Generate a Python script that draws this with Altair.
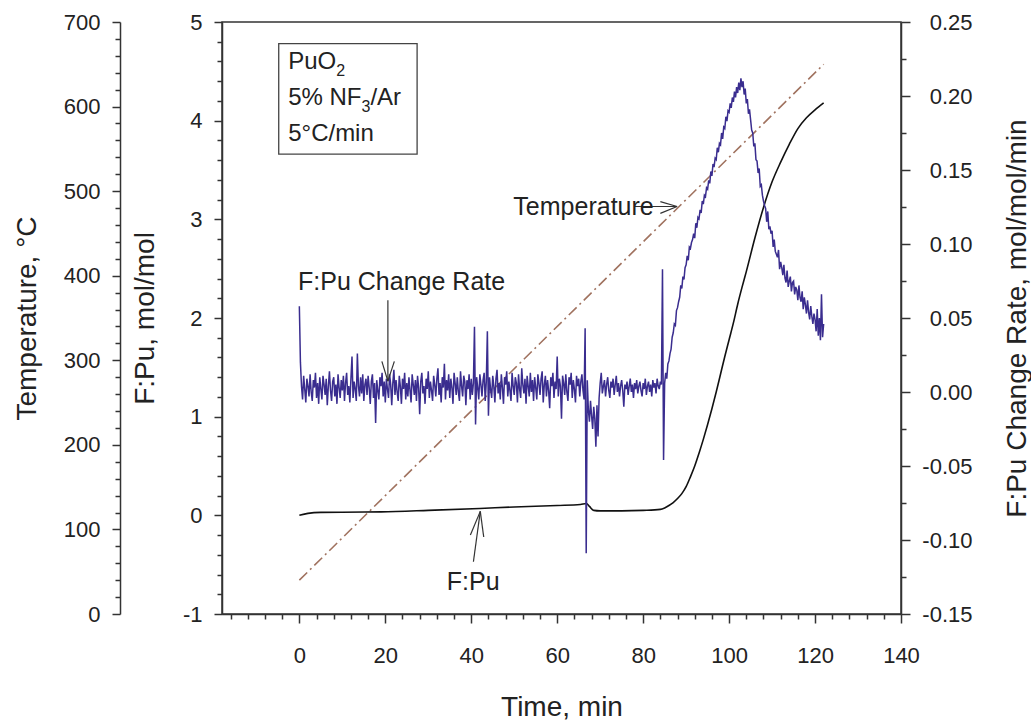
import altair as alt
import pandas as pd

# ---- data -------------------------------------------------------------
# Furnace temperature (deg C) vs time (min)
temp_time = [0, 122]
temp_c = [40, 650]

# F:Pu ratio (mol/mol) vs time (min)
fpu_time = [0, 2, 5, 10, 19, 30, 42, 50, 60, 65.4,
            66.8, 67.5, 68.5, 70, 75, 80, 84, 85, 86, 87,
            88, 89, 90, 91, 92, 93, 94, 95, 96, 97,
            98, 99, 100, 101, 102, 103, 104, 106, 108, 110,
            112, 114, 116, 118, 120, 122]
fpu_ratio = [0.00, 0.02, 0.03, 0.032, 0.035, 0.05, 0.07, 0.085, 0.10, 0.11,
             0.12, 0.09, 0.05, 0.045, 0.045, 0.05, 0.06, 0.075, 0.10, 0.13,
             0.17, 0.22, 0.29, 0.39, 0.50, 0.63, 0.77, 0.92, 1.08, 1.25,
             1.43, 1.61, 1.78, 1.95, 2.14, 2.31, 2.47, 2.81, 3.12, 3.38,
             3.58, 3.76, 3.92, 4.03, 4.11, 4.18]

# F:Pu change rate (mol/mol/min), logged every 0.25 min from t = 0
rate_step_min = 0.25
rate_values = [
    # 0 - 4.75 min
    0.058, 0.020, 0.004, -0.005, 0.011, 0.002, -0.007, 0.009, 0.004, -0.003,
    0.012, 0.000, -0.006, 0.008, 0.003, 0.013, -0.004, 0.006, -0.008, 0.010,
    # 5 - 9.75
    0.002, -0.005, 0.011, 0.005, -0.002, 0.009, -0.009, 0.004, 0.014, 0.001,
    -0.006, 0.007, 0.010, -0.003, 0.005, -0.008, 0.012, 0.003, -0.004, 0.008,
    # 10 - 14.75
    0.001, 0.011, -0.006, 0.006, 0.013, -0.002, 0.004, -0.007, 0.009, 0.024,
    -0.004, 0.007, 0.002, -0.006, 0.026, 0.004, -0.003, 0.010, -0.001, 0.012,
    # 15 - 19.75
    -0.006, 0.005, 0.009, -0.002, 0.011, 0.003, -0.008, 0.007, 0.012, -0.004,
    0.006, -0.021, 0.008, 0.001, -0.005, 0.010, 0.004, 0.013, -0.003, 0.007,
    # 20 - 24.75
    -0.007, 0.009, 0.002, -0.004, 0.012, 0.005, -0.009, 0.006, 0.015, -0.002,
    0.008, 0.000, -0.006, 0.011, 0.004, -0.008, 0.009, 0.002, 0.013, -0.005,
    # 25 - 29.75
    0.006, -0.003, 0.010, 0.001, -0.007, 0.012, 0.005, -0.002, 0.008, -0.006,
    0.011, 0.003, -0.015, 0.007, 0.013, -0.001, 0.004, -0.008, 0.009, 0.002,
    # 30 - 34.75
    0.014, -0.004, 0.007, 0.001, -0.006, 0.011, 0.005, -0.003, 0.009, 0.016,
    -0.002, 0.006, -0.007, 0.010, 0.003, 0.019, -0.005, 0.008, 0.001, 0.012,
    # 35 - 39.75
    -0.004, 0.009, 0.003, -0.008, 0.013, 0.006, -0.002, 0.010, 0.000, -0.006,
    0.014, 0.004, -0.003, 0.011, 0.007, -0.009, 0.008, 0.002, 0.012, -0.005,
    # 40 - 44.75
    0.009, -0.002, 0.006, 0.044, -0.022, 0.010, 0.003, -0.005, 0.012, 0.005,
    -0.003, 0.008, 0.013, -0.006, 0.007, 0.041, -0.016, 0.010, 0.002, -0.004,
    # 45 - 49.75
    0.011, 0.004, -0.007, 0.009, 0.015, -0.001, 0.006, -0.005, 0.012, 0.003,
    -0.008, 0.010, 0.005, 0.014, -0.003, 0.007, 0.001, -0.006, 0.013, 0.004,
    # 50 - 54.75
    -0.002, 0.010, 0.006, -0.007, 0.012, 0.002, -0.004, 0.016, 0.005, -0.001,
    0.009, -0.008, 0.011, 0.004, -0.003, 0.013, 0.000, 0.008, -0.006, 0.010,
    # 55 - 59.75
    0.003, -0.005, 0.012, 0.006, -0.002, 0.009, 0.014, -0.007, 0.005, 0.011,
    -0.003, 0.008, 0.001, -0.011, 0.010, 0.004, 0.013, -0.004, 0.007, 0.002,
    # 60 - 64.75
    0.024, -0.003, 0.009, 0.004, -0.018, 0.011, 0.006, -0.002, 0.012, 0.000,
    -0.006, 0.010, 0.005, 0.013, -0.004, 0.008, 0.002, -0.007, 0.011, 0.004,
    # 65 - 69.75
    0.009, -0.003, 0.007, 0.012, 0.001, -0.005, 0.043, -0.109, 0.008, -0.012,
    -0.020, -0.006, -0.016, -0.025, -0.010, -0.018, -0.037, -0.009, -0.030, -0.004,
    # 70 - 74.75
    0.006, 0.013, -0.001, 0.004, 0.008, -0.003, 0.005, 0.010, 0.001, -0.004,
    0.007, 0.003, 0.009, -0.002, 0.005, 0.011, 0.000, 0.006, -0.003, 0.004,
    # 75 - 79.75
    0.008, 0.001, -0.010, 0.005, 0.002, 0.007, -0.002, 0.004, 0.009, 0.000,
    0.005, -0.004, 0.006, 0.002, 0.008, -0.001, 0.004, 0.007, 0.001, -0.003,
    # 80 - 84.75
    0.006, 0.002, 0.009, -0.002, 0.004, 0.007, 0.000, 0.005, -0.003, 0.008,
    0.003, 0.006, -0.001, 0.009, 0.004, 0.002, 0.007, 0.005, 0.083, -0.046,
    # 85 - 89.75
    0.006, 0.013, 0.009, 0.019, 0.021, 0.026, 0.029, 0.037, 0.040, 0.046,
    0.045, 0.055, 0.057, 0.061, 0.064, 0.072, 0.070, 0.078, 0.076, 0.084,
    # 90 - 94.75
    0.086, 0.092, 0.089, 0.098, 0.097, 0.101, 0.103, 0.107, 0.104, 0.114,
    0.111, 0.118, 0.117, 0.123, 0.121, 0.129, 0.127, 0.133, 0.132, 0.138,
    # 95 - 99.75
    0.137, 0.143, 0.141, 0.149, 0.146, 0.154, 0.152, 0.158, 0.157, 0.165,
    0.162, 0.168, 0.167, 0.175, 0.171, 0.179, 0.178, 0.186, 0.183, 0.190,
    # 100 - 104.75
    0.189, 0.195, 0.192, 0.199, 0.196, 0.203, 0.199, 0.206, 0.202, 0.209,
    0.204, 0.212, 0.206, 0.210, 0.201, 0.205, 0.195, 0.198, 0.188, 0.191,
    # 105 - 109.75
    0.184, 0.177, 0.175, 0.166, 0.168, 0.157, 0.156, 0.148, 0.151, 0.139,
    0.140, 0.133, 0.129, 0.126, 0.124, 0.115, 0.122, 0.110, 0.112, 0.107,
    # 110 - 114.75
    0.109, 0.098, 0.103, 0.095, 0.093, 0.091, 0.096, 0.083, 0.088, 0.084,
    0.079, 0.086, 0.077, 0.074, 0.082, 0.071, 0.075, 0.078, 0.068, 0.074,
    # 115 - 119.75
    0.075, 0.066, 0.071, 0.069, 0.062, 0.072, 0.064, 0.061, 0.068, 0.056,
    0.064, 0.059, 0.053, 0.062, 0.054, 0.049, 0.058, 0.051, 0.046, 0.053,
    # 120 - 122
    0.049, 0.041, 0.056, 0.038, 0.050, 0.035, 0.066, 0.037, 0.046,
]
rate_time = [round(i * rate_step_min, 2) for i in range(len(rate_values))]

# Axis tick positions
x_ticks = list(range(-16, 141, 4))
temp_ticks = list(range(0, 701, 20))
fpu_ticks = [round(-1 + 0.2 * i, 1) for i in range(31)]
rate_ticks = [round(-0.15 + 0.025 * i, 3) for i in range(17)]

# Annotation callouts, in (time, F:Pu) coordinates
arrow_t = [20.6, 19.2, 22.1, 40.5, 39.8, 42.9, 78.0, 84.0, 84.0]
arrow_v = [2.18, 1.56, 1.56, -0.47, -0.20, -0.22, 3.13, 3.18, 3.06]
arrow_t2 = [20.6, 20.6, 20.6, 42.1, 42.1, 42.1, 87.9, 87.9, 87.9]
arrow_v2 = [1.36, 1.36, 1.36, 0.04, 0.04, 0.04, 3.13, 3.13, 3.13]

label_text = ["F:Pu Change Rate", "F:Pu", "Temperature"]
label_t = [-0.3, 34.3, 49.8]
label_v = [2.28, -0.76, 3.04]

box_t = [-4.8]
box_t2 = [27.4]
box_v = [4.78]
box_v2 = [3.66]
box_line_t = -2.6
box_line_v = [4.52, 4.16, 3.79]

# ---- styling ----------------------------------------------------------
FONT = "Liberation Sans"
INK = "#222222"
TICK_FS = 22
TITLE_FS = 28
NOTE_FS = 25
BOX_FS = 24
SUB_FS = 16

W, H = 679, 592
XDOM = [-18, 140]

x_scale = alt.Scale(domain=XDOM, nice=False, zero=False)
fpu_scale = alt.Scale(domain=[-1, 5], nice=False, zero=False)


def major_minor(test, major, minor):
    return {"condition": {"test": test, "value": major}, "value": minor}


x_axis = alt.Axis(
    values=x_ticks,
    title="Time, min",
    labelExpr="(datum.value % 20 === 0 && datum.value >= 0) ? datum.label : ''",
    tickSize=major_minor("datum.value % 20 === 0", 9, 5),
    labelPadding=22,
    titleY=101,
    titleBaseline="alphabetic",
)

temp_axis = alt.Axis(
    values=temp_ticks,
    orient="left",
    offset=102,
    title="Temperature, °C",
    labelExpr="datum.value % 100 === 0 ? datum.label : ''",
    tickSize=major_minor("datum.value % 100 === 0", 8, 5),
    labelPadding=12,
    titleX=-85,
    titleY=H / 2,
    titleAngle=270,
    titleBaseline="alphabetic",
)

fpu_axis = alt.Axis(
    values=fpu_ticks,
    orient="left",
    title="F:Pu, mol/mol",
    labelExpr="abs(datum.value - round(datum.value)) < 1e-6 ? toString(round(datum.value)) : ''",
    tickSize=major_minor("abs(datum.value - round(datum.value)) < 1e-6", 8, 5),
    labelPadding=12,
    titleX=-69,
    titleY=H / 2,
    titleAngle=270,
    titleBaseline="alphabetic",
)

rate_axis = alt.Axis(
    values=rate_ticks,
    orient="right",
    title="F:Pu Change Rate, mol/mol/min",
    labelExpr=("abs(datum.value * 20 - round(datum.value * 20)) < 1e-6 ? "
               "((datum.value < -1e-9 ? '-' : '') + format(abs(datum.value), '.2f')) : ''"),
    tickSize=major_minor("abs(datum.value * 20 - round(datum.value * 20)) < 1e-6", 9, 5),
    labelAlign="right",
    labelPadding=62,
    titleX=124,
    titleY=H / 2,
    titleAngle=270,
    titleBaseline="alphabetic",
)

# ---- layers -----------------------------------------------------------
temp_df = pd.DataFrame({"t": temp_time, "v": temp_c})
fpu_df = pd.DataFrame({"t": fpu_time, "v": fpu_ratio})
rate_df = pd.DataFrame({"t": rate_time, "v": rate_values})
arrow_df = pd.DataFrame({"t": arrow_t, "v": arrow_v, "t2": arrow_t2, "v2": arrow_v2})
label_df = pd.DataFrame({"t": label_t, "v": label_v, "txt": label_text})
box_df = pd.DataFrame({"t": box_t, "t2": box_t2, "v": box_v, "v2": box_v2})

temp_layer = alt.Chart(temp_df).mark_line(
    color="#a0725f", strokeWidth=1.6, strokeDash=[11, 4, 2, 4]
).encode(
    x=alt.X("t:Q", scale=x_scale, axis=x_axis),
    y=alt.Y("v:Q", scale=alt.Scale(domain=[0, 700], nice=False, zero=False), axis=temp_axis),
)

fpu_layer = alt.Chart(fpu_df).mark_line(
    color="#111111", strokeWidth=1.6, interpolate="monotone"
).encode(
    x=alt.X("t:Q", scale=x_scale, axis=None),
    y=alt.Y("v:Q", scale=fpu_scale, axis=fpu_axis),
)

rate_layer = alt.Chart(rate_df).mark_line(
    color="#3a2d8f", strokeWidth=1.5
).encode(
    x=alt.X("t:Q", scale=x_scale, axis=None),
    y=alt.Y("v:Q", scale=alt.Scale(domain=[-0.15, 0.25], nice=False, zero=False), axis=rate_axis),
)

arrow_layer = alt.Chart(arrow_df).mark_rule(color="#333333", strokeWidth=1.2).encode(
    x=alt.X("t:Q", scale=x_scale, axis=None),
    x2="t2:Q",
    y=alt.Y("v:Q", scale=fpu_scale, axis=None),
    y2="v2:Q",
)

label_layer = alt.Chart(label_df).mark_text(
    align="left", baseline="alphabetic", fontSize=NOTE_FS, font=FONT, color=INK
).encode(
    x=alt.X("t:Q", scale=x_scale, axis=None),
    y=alt.Y("v:Q", scale=fpu_scale, axis=None),
    text="txt:N",
)

box_layer = alt.Chart(box_df).mark_rect(
    fill="white", fillOpacity=0, stroke="#444444", strokeWidth=1.3
).encode(
    x=alt.X("t:Q", scale=x_scale, axis=None),
    x2="t2:Q",
    y=alt.Y("v:Q", scale=fpu_scale, axis=None),
    y2="v2:Q",
)


def box_text(text, line, dx=0, dy=0, size=BOX_FS):
    df = pd.DataFrame({"t": [box_line_t], "v": [box_line_v[line]], "txt": [text]})
    return alt.Chart(df).mark_text(
        align="left", baseline="alphabetic", fontSize=size, font=FONT,
        color=INK, dx=dx, dy=dy,
    ).encode(
        x=alt.X("t:Q", scale=x_scale, axis=None),
        y=alt.Y("v:Q", scale=fpu_scale, axis=None),
        text="txt:N",
    )


# advance widths (Liberation Sans em units) for placing the subscripts
w_puo = 2.001 * BOX_FS
w_nf = 3.056 * BOX_FS
w_sub3 = 0.556 * SUB_FS
box_texts = [
    box_text("PuO", 0),
    box_text("2", 0, dx=w_puo, dy=7, size=SUB_FS),
    box_text("5% NF", 1),
    box_text("3", 1, dx=w_nf, dy=7, size=SUB_FS),
    box_text("/Ar", 1, dx=w_nf + w_sub3),
    box_text("5°C/min", 2),
]

chart = alt.layer(
    temp_layer, fpu_layer, rate_layer, arrow_layer, label_layer, box_layer, *box_texts
).resolve_scale(
    y="independent"
).resolve_axis(
    x="independent", y="independent"
).properties(
    width=W,
    height=H,
    padding={"left": 222, "top": 22, "right": 130, "bottom": 107},
    autosize=alt.AutoSizeParams(type="none"),
    background="white",
).configure_view(
    stroke="#333333", strokeWidth=1.5
).configure_axis(
    grid=False,
    domainColor="#333333",
    domainWidth=1.5,
    tickColor="#333333",
    tickWidth=1.5,
    labelFont=FONT,
    labelFontSize=TICK_FS,
    labelColor=INK,
    labelOverlap=False,
    labelFlush=False,
    titleFont=FONT,
    titleFontSize=TITLE_FS,
    titleFontWeight="normal",
    titleColor=INK,
)

chart.save("out.html", embed_options={"renderer": "svg", "actions": False})
